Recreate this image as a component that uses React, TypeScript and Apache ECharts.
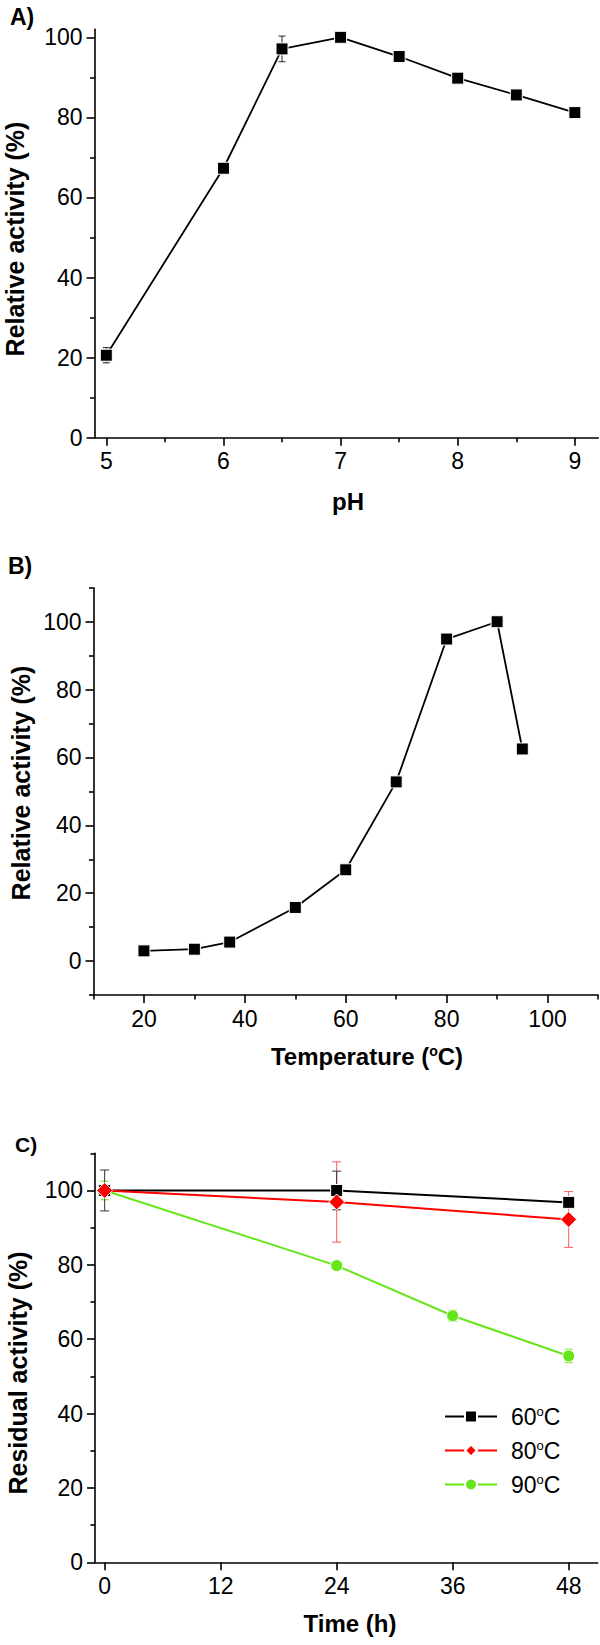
import React, { useEffect, useRef } from 'react';
import * as echarts from 'echarts';

// ---------- Data ----------
const phValues = [5, 6, 6.5, 7, 7.5, 8, 8.5, 9];
const phActivity = [20.6, 67.3, 97.1, 100, 95.2, 89.8, 85.6, 81.2];
const phError = [1.9, 0, 3.2, 0, 0, 0, 0, 0];

const tempValues = [20, 30, 37, 50, 60, 70, 80, 90, 95];
const tempActivity = [3.0, 3.5, 5.6, 15.8, 26.9, 52.8, 94.9, 100, 62.5];

const time60 = [0, 24, 48];
const res60 = [100, 100, 96.8];
const err60 = [5.5, 5.2, 1.2];

const time80 = [0, 24, 48];
const res80 = [100, 96.9, 92.2];
const err80 = [1.0, 10.8, 7.5];

const time90 = [0, 24, 36, 48];
const res90 = [100, 79.8, 66.3, 55.5];
const err90 = [2.5, 1.0, 1.5, 1.8];

const seriesNames = ['60°C', '80°C', '90°C'];

// ---------- Tick values ----------
const phTicks = [5, 6, 7, 8, 9];
const phMinorTicks = [5.5, 6.5, 7.5, 8.5];
const activityTicksA = [0, 20, 40, 60, 80, 100];
const activityMinorA = [10, 30, 50, 70, 90];

const tempTicks = [20, 40, 60, 80, 100];
const tempMinorTicks = [10, 30, 50, 70, 90, 110];
const activityTicksB = [0, 20, 40, 60, 80, 100];
const activityMinorB = [-10, 10, 30, 50, 70, 90, 110];

const timeTicks = [0, 12, 24, 36, 48];
const residualTicks = [0, 20, 40, 60, 80, 100];
const residualMinor = [10, 30, 50, 70, 90, 110];

const FONT = '"Liberation Sans", Arial, Helvetica, sans-serif';
const GREEN = '#66e619';
const RED = '#ff0000';

function mainAxis(gridIndex: number, min: number, max: number, ticks: number[]) {
  return {
    type: 'value',
    gridIndex,
    min,
    max,
    axisLine: { show: true, onZero: false, lineStyle: { color: '#000', width: 1.6 } },
    axisTick: { show: true, customValues: ticks, length: 8, lineStyle: { color: '#000', width: 1.6 } },
    axisLabel: { show: true, customValues: ticks, fontSize: 23, color: '#000', fontFamily: FONT, margin: 12 },
    splitLine: { show: false },
  };
}

function minorAxis(gridIndex: number, min: number, max: number, ticks: number[]) {
  return {
    type: 'value',
    gridIndex,
    min,
    max,
    axisLine: { show: false, onZero: false },
    axisTick: { show: true, customValues: ticks, length: 4.5, lineStyle: { color: '#000', width: 1.6 } },
    axisLabel: { show: false },
    splitLine: { show: false },
  };
}

function errorSeries(
  xs: number[], ys: number[], errs: number[], color: string,
  xAxisIndex: number, yAxisIndex: number, capHalf: number, z: number
) {
  const data = xs
    .map((x, i) => [x, ys[i] - errs[i], ys[i] + errs[i], errs[i]])
    .filter((d) => d[3] > 0);
  return {
    type: 'custom',
    xAxisIndex,
    yAxisIndex,
    z,
    silent: true,
    data,
    encode: { x: 0, y: [1, 2] },
    renderItem: (params: any, api: any) => {
      const x = api.value(0);
      const lo = api.value(1);
      const hi = api.value(2);
      const pTop = api.coord([x, hi]);
      const pBot = api.coord([x, lo]);
      const style = { stroke: color, lineWidth: 1 };
      return {
        type: 'group',
        children: [
          { type: 'line', shape: { x1: pTop[0], y1: pTop[1], x2: pBot[0], y2: pBot[1] }, style },
          { type: 'line', shape: { x1: pTop[0] - capHalf, y1: pTop[1], x2: pTop[0] + capHalf, y2: pTop[1] }, style },
          { type: 'line', shape: { x1: pBot[0] - capHalf, y1: pBot[1], x2: pBot[0] + capHalf, y2: pBot[1] }, style },
        ],
      };
    },
  };
}

function pairs(xs: number[], ys: number[]) {
  return xs.map((x, i) => [x, ys[i]]);
}

export default function App() {
  const ref = useRef<HTMLDivElement>(null);

  useEffect(() => {
    document.body.style.margin = '0';
    if (!ref.current) return;
    const chart = echarts.init(ref.current, undefined, { renderer: 'svg' });

    const option: any = {
      animation: false,
      backgroundColor: '#fff',
      textStyle: { fontFamily: FONT },
      grid: [
        { left: 94.6, top: 29.3, width: 503.7, height: 408.4, containLabel: false, outerBoundsMode: 'none' },
        { left: 93.5, top: 587.8, width: 504.5, height: 407.2, containLabel: false, outerBoundsMode: 'none' },
        { left: 95, top: 1153.3, width: 502.7, height: 409, containLabel: false, outerBoundsMode: 'none' },
      ],
      xAxis: [
        { ...mainAxis(0, 4.9, 9.2, phTicks), position: 'bottom', offset: 0 },
        { ...minorAxis(0, 4.9, 9.2, phMinorTicks), position: 'bottom', offset: 0 },
        { ...mainAxis(1, 10, 110, tempTicks), position: 'bottom', offset: 0 },
        { ...minorAxis(1, 10, 110, tempMinorTicks), position: 'bottom', offset: 0 },
        { ...mainAxis(2, -1, 51, timeTicks), position: 'bottom', offset: 0 },
      ],
      yAxis: [
        { ...mainAxis(0, 0, 102, activityTicksA), position: 'left', offset: 0 },
        { ...minorAxis(0, 0, 102, activityMinorA), position: 'left', offset: 0 },
        { ...mainAxis(1, -10, 110, activityTicksB), position: 'left', offset: 0 },
        { ...minorAxis(1, -10, 110, activityMinorB), position: 'left', offset: 0 },
        { ...mainAxis(2, 0, 110, residualTicks), position: 'left', offset: 0 },
        { ...minorAxis(2, 0, 110, residualMinor), position: 'left', offset: 0 },
      ],
      legend: {
        data: seriesNames,
        orient: 'vertical',
        left: 439,
        top: 1400,
        itemWidth: 52,
        itemHeight: 15,
        itemGap: 11,
        selectedMode: false,
        formatter: (name: string) => '{n|' + name.replace('°C', '') + '}{s|o}{n|C}',
        textStyle: {
          padding: [0, 0, 0, 9],
          rich: {
            n: { fontSize: 23, color: '#000', fontFamily: FONT },
            s: { fontSize: 13, color: '#000', fontFamily: FONT, verticalAlign: 'top' },
          },
        },
      },
      series: [
        // Panel A
        errorSeries(phValues, phActivity, phError, '#222', 0, 0, 3.5, 1),
        {
          type: 'line',
          xAxisIndex: 0,
          yAxisIndex: 0,
          data: pairs(phValues, phActivity),
          symbol: 'rect',
          symbolSize: 12,
          z: 3,
          lineStyle: { color: '#000', width: 1.8 },
          itemStyle: { color: '#000', borderColor: '#fff', borderWidth: 1 },
        },
        // Panel B
        {
          type: 'line',
          xAxisIndex: 2,
          yAxisIndex: 2,
          data: pairs(tempValues, tempActivity),
          symbol: 'rect',
          symbolSize: 12,
          z: 3,
          lineStyle: { color: '#000', width: 1.8 },
          itemStyle: { color: '#000', borderColor: '#fff', borderWidth: 1 },
        },
        // Panel C
        errorSeries(time90, res90, err90, GREEN, 4, 4, 4, 1),
        errorSeries(time80, res80, err80, '#ff5a5a', 4, 4, 4.5, 1),
        errorSeries(time60, res60, err60, '#333', 4, 4, 4.5, 1),
        {
          name: seriesNames[2],
          type: 'line',
          xAxisIndex: 4,
          yAxisIndex: 4,
          data: pairs(time90, res90),
          symbol: 'circle',
          symbolSize: 12,
          z: 3,
          lineStyle: { color: GREEN, width: 2 },
          itemStyle: { color: GREEN, borderColor: '#fff', borderWidth: 1 },
        },
        {
          name: seriesNames[0],
          type: 'line',
          xAxisIndex: 4,
          yAxisIndex: 4,
          data: pairs(time60, res60),
          symbol: 'rect',
          symbolSize: 12,
          z: 4,
          lineStyle: { color: '#000', width: 2 },
          itemStyle: { color: '#000', borderColor: '#fff', borderWidth: 1 },
        },
        {
          name: seriesNames[1],
          type: 'line',
          xAxisIndex: 4,
          yAxisIndex: 4,
          data: pairs(time80, res80),
          symbol: 'diamond',
          symbolSize: 16,
          z: 5,
          lineStyle: { color: RED, width: 2 },
          itemStyle: { color: RED, borderColor: '#fff', borderWidth: 1 },
        },
      ],
      graphic: [
        { type: 'text', x: 10, y: 17, style: { text: 'A)', fontSize: 23, fontWeight: 'bold', fontFamily: FONT, fill: '#000', textAlign: 'left', textVerticalAlign: 'middle' } },
        { type: 'text', x: 8, y: 566, style: { text: 'B)', fontSize: 23, fontWeight: 'bold', fontFamily: FONT, fill: '#000', textAlign: 'left', textVerticalAlign: 'middle' } },
        { type: 'text', x: 15, y: 1144, style: { text: 'C)', fontSize: 21, fontWeight: 'bold', fontFamily: FONT, fill: '#000', textAlign: 'left', textVerticalAlign: 'middle' } },
        { type: 'text', x: 14.5, y: 239, rotation: Math.PI / 2, style: { text: 'Relative activity (%)', fontSize: 25, fontWeight: 'bold', fontFamily: FONT, fill: '#000', textAlign: 'center', textVerticalAlign: 'middle' } },
        { type: 'text', x: 21, y: 783, rotation: Math.PI / 2, style: { text: 'Relative activity (%)', fontSize: 25, fontWeight: 'bold', fontFamily: FONT, fill: '#000', textAlign: 'center', textVerticalAlign: 'middle' } },
        { type: 'text', x: 18, y: 1373, rotation: Math.PI / 2, style: { text: 'Residual activity (%)', fontSize: 25, fontWeight: 'bold', fontFamily: FONT, fill: '#000', textAlign: 'center', textVerticalAlign: 'middle' } },
        { type: 'text', x: 348, y: 501, style: { text: 'pH', fontSize: 24, fontWeight: 'bold', fontFamily: FONT, fill: '#000', textAlign: 'center', textVerticalAlign: 'middle' } },
        {
          type: 'text', x: 367, y: 1056,
          style: {
            text: '{a|Temperature (}{s|o}{a|C)}',
            fill: '#000',
            textAlign: 'center',
            textVerticalAlign: 'middle',
            rich: {
              a: { fontSize: 24, fontWeight: 'bold', fontFamily: FONT, fill: '#000' },
              s: { fontSize: 14, fontWeight: 'bold', fontFamily: FONT, fill: '#000', verticalAlign: 'top' },
            },
          },
        },
        { type: 'text', x: 350, y: 1623, style: { text: 'Time (h)', fontSize: 24, fontWeight: 'bold', fontFamily: FONT, fill: '#000', textAlign: 'center', textVerticalAlign: 'middle' } },
      ],
    };

    chart.setOption(option);
    return () => {
      chart.dispose();
    };
  }, []);

  return (
    <div
      ref={ref}
      style={{ position: 'absolute', left: 0, top: 0, width: 600, height: 1645, background: '#fff' }}
    />
  );
}
